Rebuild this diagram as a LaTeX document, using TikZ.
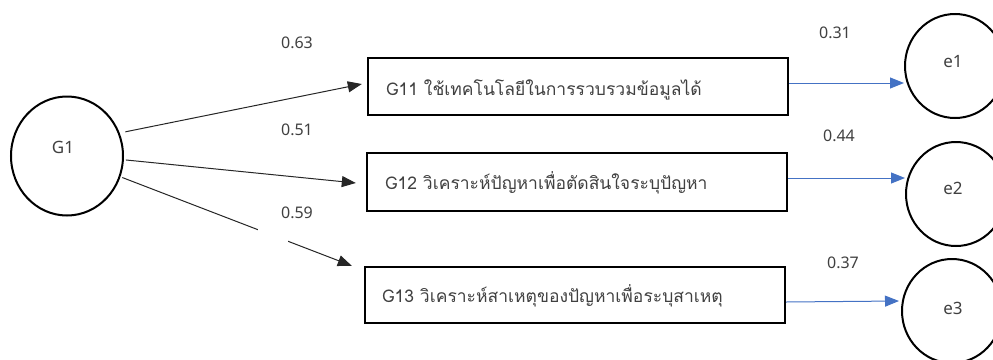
\documentclass[tikz,border=0pt]{standalone}
\usepackage{fontspec}
\setmainfont{Noto Sans}
\newfontfamily\thaifont[Script=Thai]{Loma}
\usetikzlibrary{arrows.meta,calc,shapes.geometric}
\definecolor{officeblue}{RGB}{68,114,196}
\definecolor{txtgray}{RGB}{64,64,64}
\begin{document}
\begin{tikzpicture}[x=1pt,y=-1pt,
  latent/.style={ellipse,draw=black,line width=2pt,inner sep=0pt},
  itembox/.style={rectangle,draw=black,line width=2.4pt,minimum width=420pt,inner sep=0pt},
  itemtext/.style={anchor=west,font=\thaifont\fontsize{17.5}{20}\selectfont,text=txtgray,inner sep=0pt},
  coef/.style={font=\fontsize{16}{18}\selectfont,text=txtgray,inner sep=0pt},
  vname/.style={font=\fontsize{17}{20}\selectfont,text=txtgray,inner sep=0pt},
  load/.style={draw=black!85,line width=1pt,-{Triangle[length=14pt,width=11pt]}},
  err/.style={draw=officeblue,line width=1pt,-{Triangle[length=14pt,width=11pt]}}]
\useasboundingbox (0,0) rectangle (993,359);
\clip (0,0) rectangle (993,359);

% latent
\node[latent,minimum width=112pt,minimum height=119pt] (g1) at (67,156) {};
\node[vname] (g1t) at (63,147) {G1};

% boxes
\node[itembox,minimum height=57pt] (b1) at (578,86.5) {};
\node[itembox,minimum height=58pt] (b2) at (577,182) {};
\node[itembox,minimum height=56pt] (b3) at (575,295) {};
\node[itemtext] (t1) at ([xshift=19pt,yshift=-3pt]b1.west) {G11 ใช้เทคโนโลยีในการรวบรวมข้อมูลได้};
\node[itemtext] (t2) at ([xshift=19pt,yshift=-1pt]b2.west) {G12 วิเคราะห์ปัญหาเพื่อตัดสินใจระบุปัญหา};
\node[itemtext] (t3) at ([xshift=18pt,yshift=-1pt]b3.west) {G13 วิเคราะห์สาเหตุของปัญหาเพื่อระบุสาเหตุ};

% error terms
\node[latent,minimum width=100pt,minimum height=104pt] (e1) at (955,66) {};
\node[latent,minimum width=100pt,minimum height=104pt] (e2) at (956,194) {};
\node[latent,minimum width=100pt,minimum height=104pt] (e3) at (952,311) {};
\node[vname] (e1t) at (953,62) {e1};
\node[vname] (e2t) at (953,188) {e2};
\node[vname] (e3t) at (953,308) {e3};

% loadings
\draw[load] ([xshift=7pt,yshift=-2pt]g1.27) -- ([xshift=-5pt,yshift=2.5pt]b1.west);
\draw[load] ([xshift=2pt]g1.-4) -- ([xshift=-10pt,yshift=-1pt]b2.west);
\draw[load] ([xshift=2pt]g1.-22) -- ([xshift=-12pt]b3.north west);
\fill[white] (258,228) rectangle (288,250);

% error arrows
\draw[err] ([yshift=3.5pt]b1.east) -- ([yshift=3.5pt]b1.east -| e1.west);
\draw[err] ([yshift=4pt]b2.east) -- ([yshift=4pt]b2.east -| e2.west);
\draw[err] ([yshift=-7pt]b3.east) -- ([yshift=-6pt,xshift=-2pt]b3.east -| e3.west);

% coefficients
\node[coef] (c1) at (297,43) {0.63};
\node[coef] (c2) at (297,130) {0.51};
\node[coef] (c3) at (297,213) {0.59};
\node[coef] (c4) at (835,33) {0.31};
\node[coef] (c5) at (839,136) {0.44};
\node[coef] (c6) at (843,263) {0.37};
\end{tikzpicture}
\end{document}
